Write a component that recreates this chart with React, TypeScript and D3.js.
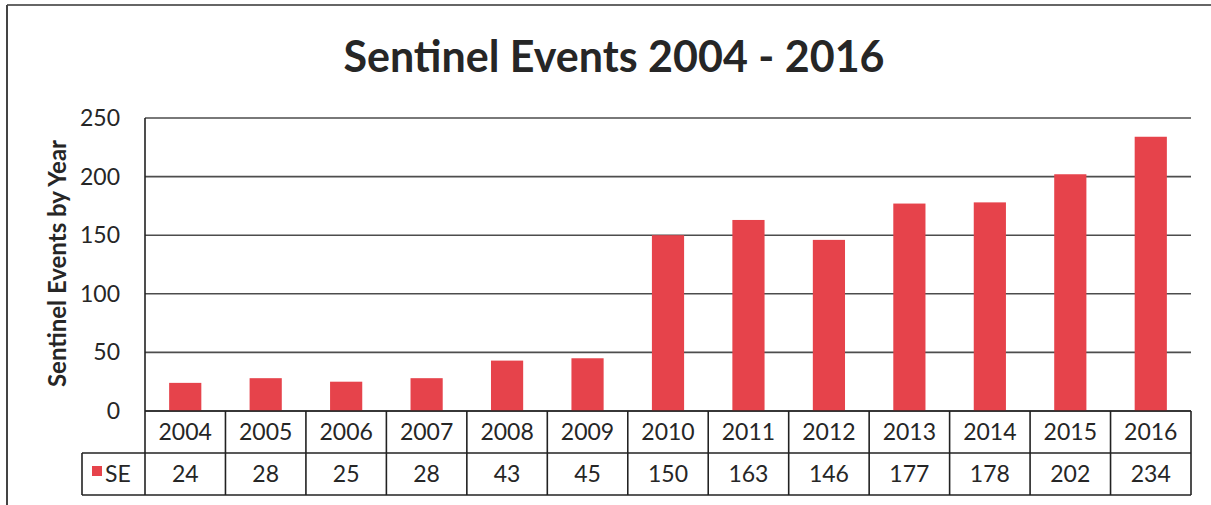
import React from "react";
import * as d3 from "d3";

const years = ["2004", "2005", "2006", "2007", "2008", "2009", "2010", "2011", "2012", "2013", "2014", "2015", "2016"];
const seValues = [24, 28, 25, 28, 43, 45, 150, 163, 146, 177, 178, 202, 234];
const yTicks = [0, 50, 100, 150, 200, 250];
const seriesName = "SE";
const chartTitle = "Sentinel Events 2004 - 2016";
const yAxisTitle = "Sentinel Events by Year";

const W = 1211;
const H = 505;
const FONT = "Lato, 'Open Sans', 'DejaVu Sans', sans-serif";
const BAR = "#e6434b";
const GRID = "#4d4d4d";
const TEXT = "#262626";

export default function App() {
  const plotLeft = 145;
  const plotRight = 1191;
  const plotTop = 118;
  const plotBottom = 411;
  const rowH = 42;
  const legendLeft = 82;

  const x = d3.scaleBand<string>().domain(years).range([plotLeft, plotRight]).paddingInner(0).paddingOuter(0);
  const y = d3.scaleLinear().domain([0, 250]).range([plotBottom, plotTop]);
  const bw = x.bandwidth();
  const barW = bw * 0.4;

  const row1Bottom = plotBottom + rowH;
  const row2Bottom = row1Bottom + rowH;

  return (
    <svg width={W} height={H} style={{ position: "absolute", left: 0, top: 0, background: "#fff" }}>
      <rect x={0} y={0} width={W} height={H} fill="#fff" />
      {/* outer frame */}
      <line x1={7} y1={5} x2={W} y2={5} stroke="#666" strokeWidth={2} />
      <line x1={7} y1={5} x2={7} y2={H} stroke="#444" strokeWidth={2} />

      <text x={614} y={72} textAnchor="middle" fontFamily={FONT} fontWeight={700} fontSize={43} fill={TEXT}>
        {chartTitle}
      </text>

      {/* gridlines */}
      {yTicks.map((t) => (
        <line key={t} x1={plotLeft} x2={plotRight} y1={y(t)} y2={y(t)} stroke={GRID} strokeWidth={1.6} />
      ))}
      {/* y tick labels */}
      {yTicks.map((t) => (
        <text key={"l" + t} x={120} y={y(t) + 8} textAnchor="end" fontFamily={FONT} fontSize={23} fill={TEXT}>
          {t}
        </text>
      ))}
      <text
        transform={`translate(66, ${(plotTop + plotBottom) / 2 - 1}) rotate(-90)`}
        textAnchor="middle"
        fontFamily={FONT}
        fontWeight={700}
        fontSize={24}
        fill={TEXT}
      >
        {yAxisTitle}
      </text>

      {/* bars */}
      {years.map((yr, i) => (
        <rect
          key={yr}
          x={(x(yr) as number) + (bw - barW) / 2}
          y={y(seValues[i])}
          width={barW}
          height={plotBottom - y(seValues[i])}
          fill={BAR}
        />
      ))}

      {/* axis line */}
      <line x1={plotLeft} x2={plotLeft} y1={plotTop} y2={row2Bottom} stroke="#222" strokeWidth={1.6} />

      {/* data table */}
      <line x1={plotLeft} x2={plotRight} y1={plotBottom} y2={plotBottom} stroke="#222" strokeWidth={1.6} />
      <line x1={legendLeft} x2={plotRight} y1={row1Bottom} y2={row1Bottom} stroke="#222" strokeWidth={1.6} />
      <line x1={legendLeft} x2={plotRight} y1={row2Bottom} y2={row2Bottom} stroke="#222" strokeWidth={1.6} />
      <line x1={legendLeft} x2={legendLeft} y1={row1Bottom} y2={row2Bottom} stroke="#222" strokeWidth={1.6} />
      {years.map((yr) => (
        <line
          key={"v" + yr}
          x1={(x(yr) as number) + bw}
          x2={(x(yr) as number) + bw}
          y1={plotBottom}
          y2={row2Bottom}
          stroke="#222"
          strokeWidth={1.6}
        />
      ))}
      {years.map((yr, i) => (
        <g key={"c" + yr}>
          <text x={(x(yr) as number) + bw / 2} y={plotBottom + 29} textAnchor="middle" fontFamily={FONT} fontSize={23} fill={TEXT}>
            {yr}
          </text>
          <text x={(x(yr) as number) + bw / 2} y={row1Bottom + 29} textAnchor="middle" fontFamily={FONT} fontSize={23} fill={TEXT}>
            {seValues[i]}
          </text>
        </g>
      ))}
      <rect x={92} y={row1Bottom + 13} width={10} height={10} fill={BAR} />
      <text x={105} y={row1Bottom + 29} fontFamily={FONT} fontSize={23} fill={TEXT}>
        {seriesName}
      </text>
    </svg>
  );
}
